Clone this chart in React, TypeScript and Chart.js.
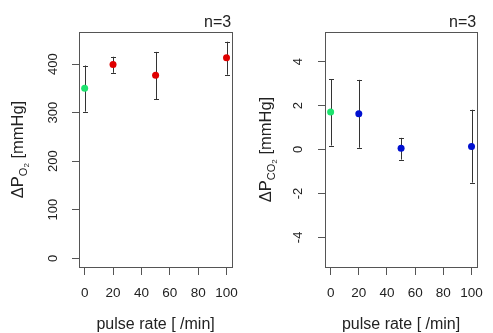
import React, { useEffect, useRef } from "react";
import { Chart, registerables } from "chart.js";
Chart.register(...registerables);

const pulseRates = [0, 20, 50, 100];
const o2Mean = [350, 399, 377, 413];
const o2Lower = [302, 382, 327, 378];
const o2Upper = [397, 415, 425, 446];
const co2Mean = [1.71, 1.63, 0.06, 0.14];
const co2Lower = [0.18, 0.08, -0.46, -1.51];
const co2Upper = [3.2, 3.17, 0.53, 1.81];
const o2Colors = ["#1de36e", "#e00000", "#e00000", "#e00000"];
const co2Colors = ["#1de36e", "#0010d0", "#0010d0", "#0010d0"];
const xTicks = [0, 20, 40, 60, 80, 100];
const o2Ticks = [0, 100, 200, 300, 400];
const co2Ticks = [-4, -2, 0, 2, 4];
const nLabel = "n=3";
const xTitle = "pulse rate [ /min]";

const FONT = "'Liberation Sans', Arial, sans-serif";
const TEXT = "#222";
const AXIS = "#555";

type Part = { text: string; size: number; dy: number };

const o2TitleParts: Part[] = [
  { text: "ΔP", size: 16.5, dy: 0 },
  { text: "O", size: 11, dy: 4 },
  { text: "2", size: 8, dy: 6 },
  { text: " [mmHg]", size: 16.5, dy: 0 },
];
const co2TitleParts: Part[] = [
  { text: "ΔP", size: 16.5, dy: 0 },
  { text: "CO", size: 11, dy: 4 },
  { text: "2", size: 8, dy: 6 },
  { text: " [mmHg]", size: 16.5, dy: 0 },
];

function makeConfig(opts: {
  means: number[];
  lower: number[];
  upper: number[];
  colors: string[];
  yMin: number;
  yMax: number;
  yTicks: number[];
  titleParts: Part[];
  yAxisWidth: number;
  rightPad: number;
  labelX: number;
  titleX: number;
}): any {
  const plugin = {
    id: "rstyle",
    beforeDatasetsDraw(chart: any) {
      const ctx = chart.ctx;
      const xs = chart.scales.x;
      const ys = chart.scales.y;
      ctx.save();
      ctx.strokeStyle = "#333";
      ctx.lineWidth = 1;
      pulseRates.forEach((r, i) => {
        const px = Math.round(xs.getPixelForValue(r)) + 0.5;
        const y1 = ys.getPixelForValue(opts.lower[i]);
        const y2 = ys.getPixelForValue(opts.upper[i]);
        ctx.beginPath();
        ctx.moveTo(px, y1);
        ctx.lineTo(px, y2);
        ctx.moveTo(px - 2.5, Math.round(y1) + 0.5);
        ctx.lineTo(px + 2.5, Math.round(y1) + 0.5);
        ctx.moveTo(px - 2.5, Math.round(y2) + 0.5);
        ctx.lineTo(px + 2.5, Math.round(y2) + 0.5);
        ctx.stroke();
      });
      ctx.restore();
    },
    afterDraw(chart: any) {
      const ctx = chart.ctx;
      const a = chart.chartArea;
      const ys = chart.scales.y;
      ctx.save();
      ctx.strokeStyle = AXIS;
      ctx.lineWidth = 1;
      ctx.strokeRect(Math.round(a.left) + 0.5, Math.round(a.top) + 0.5, Math.round(a.right - a.left), Math.round(a.bottom - a.top));
      // rotated y tick labels
      ctx.fillStyle = TEXT;
      ctx.font = `13px ${FONT}`;
      ctx.textAlign = "center";
      ctx.textBaseline = "middle";
      ys.ticks.forEach((t: any) => {
        const py = ys.getPixelForValue(t.value);
        ctx.save();
        ctx.translate(opts.labelX, py);
        ctx.rotate(-Math.PI / 2);
        ctx.fillText(String(t.value), 0, 0);
        ctx.restore();
      });
      // y title
      let total = 0;
      opts.titleParts.forEach((p) => {
        ctx.font = `${p.size}px ${FONT}`;
        total += ctx.measureText(p.text).width;
      });
      const cy = (a.top + a.bottom) / 2;
      ctx.save();
      ctx.translate(opts.titleX, cy);
      ctx.rotate(-Math.PI / 2);
      ctx.textAlign = "left";
      ctx.textBaseline = "alphabetic";
      let x = -total / 2;
      opts.titleParts.forEach((p) => {
        ctx.font = `${p.size}px ${FONT}`;
        ctx.fillText(p.text, x, 6 + p.dy);
        x += ctx.measureText(p.text).width;
      });
      ctx.restore();
      // n=3
      ctx.font = `16px ${FONT}`;
      ctx.textAlign = "right";
      ctx.textBaseline = "alphabetic";
      ctx.fillText(nLabel, a.right - 1, 27);
      ctx.restore();
    },
  };

  return {
    type: "scatter",
    data: {
      datasets: [
        {
          data: pulseRates.map((r, i) => ({ x: r, y: opts.means[i] })),
          pointRadius: 3.5,
          pointHoverRadius: 3.5,
          pointBackgroundColor: opts.colors,
          pointBorderWidth: 0,
          pointBorderColor: opts.colors,
        },
      ],
    },
    options: {
      animation: false,
      responsive: false,
      events: [],
      layout: { padding: { left: 0, right: opts.rightPad, top: 32, bottom: 0 } },
      plugins: { legend: { display: false }, tooltip: { enabled: false } },
      scales: {
        x: {
          type: "linear",
          min: -4,
          max: 104,
          afterBuildTicks: (s: any) => {
            s.ticks = xTicks.map((v) => ({ value: v }));
          },
          afterFit: (s: any) => {
            s.height = 66;
          },
          grid: { drawOnChartArea: false, drawTicks: true, tickLength: 8, color: AXIS },
          border: { display: false },
          ticks: { font: { size: 13.5, family: FONT }, color: TEXT, padding: 10, maxRotation: 0, autoSkip: false },
          title: { display: true, text: xTitle, font: { size: 16, family: FONT, lineHeight: 1.0 }, color: TEXT, padding: 0 },
        },
        y: {
          type: "linear",
          min: opts.yMin,
          max: opts.yMax,
          afterBuildTicks: (s: any) => {
            s.ticks = opts.yTicks.map((v) => ({ value: v }));
          },
          afterFit: (s: any) => {
            s.width = opts.yAxisWidth;
          },
          grid: { drawOnChartArea: false, drawTicks: true, tickLength: 7, color: AXIS },
          border: { display: false },
          ticks: { color: "rgba(0,0,0,0)", font: { size: 13, family: FONT } },
        },
      },
    },
    plugins: [plugin],
  };
}

function Panel(props: { left: number; width: number; config: any }) {
  const ref = useRef<HTMLCanvasElement | null>(null);
  useEffect(() => {
    if (!ref.current) return;
    const chart = new Chart(ref.current, props.config);
    return () => chart.destroy();
  }, []);
  return (
    <canvas
      ref={ref}
      width={props.width}
      height={333}
      style={{ position: "absolute", left: props.left, top: 0, width: props.width, height: 333, display: "block" }}
    />
  );
}

export default function App() {
  const leftCfg = makeConfig({
    means: o2Mean,
    lower: o2Lower,
    upper: o2Upper,
    colors: o2Colors,
    yMin: -18,
    yMax: 466,
    yTicks: o2Ticks,
    titleParts: o2TitleParts,
    yAxisWidth: 79,
    rightPad: 6,
    labelX: 53,
    titleX: 17,
  });
  const rightCfg = makeConfig({
    means: co2Mean,
    lower: co2Lower,
    upper: co2Upper,
    colors: co2Colors,
    yMin: -5.35,
    yMax: 5.35,
    yTicks: co2Ticks,
    titleParts: co2TitleParts,
    yAxisWidth: 77,
    rightPad: 6,
    labelX: 50,
    titleX: 17,
  });
  return (
    <div style={{ position: "fixed", left: 0, top: 0, width: 493, height: 333, background: "#fff" }}>
      <Panel left={0} width={248} config={leftCfg} />
      <Panel left={248} width={245} config={rightCfg} />
    </div>
  );
}
